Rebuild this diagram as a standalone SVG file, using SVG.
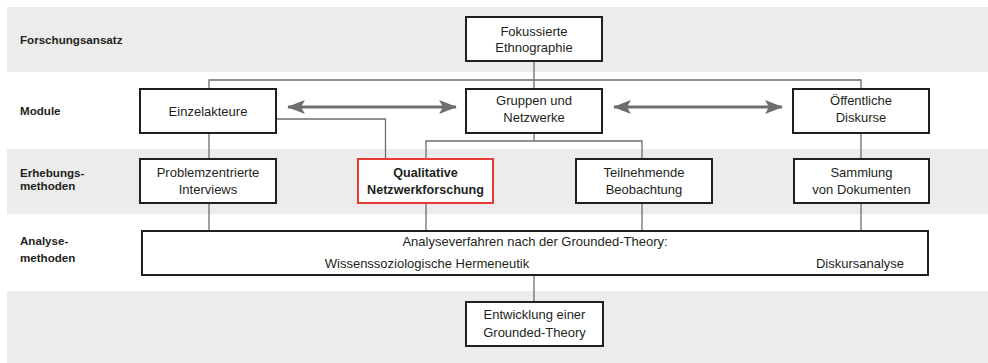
<svg xmlns="http://www.w3.org/2000/svg" width="988" height="363" viewBox="0 0 988 363">
<defs>
<style>
.band{fill:#ebeceb}
.box{fill:#fff;stroke:#231f20;stroke-width:2}
.red{fill:#fff;stroke:#e53a35;stroke-width:2}
.con{fill:none;stroke:#6d6e70;stroke-width:1.3}
.arr{fill:none;stroke:#6d6e70;stroke-width:3}
.t{font-family:"Liberation Sans",Arial,sans-serif;font-size:13px;fill:#231f20;text-anchor:middle}
.b{font-weight:bold;font-size:12.6px}
.lab{font-family:"Liberation Sans",Arial,sans-serif;font-size:11.6px;font-weight:bold;fill:#231f20}
</style>
<marker id="ah" viewBox="0 0 18 14" refX="17" refY="7" markerWidth="18" markerHeight="14" markerUnits="userSpaceOnUse" orient="auto-start-reverse">
<path d="M0,0 L18,7 L0,14 L4,7 Z" fill="#6d6e70"/>
</marker>
</defs>
<g id="bands">
<rect class="band" x="7" y="7" width="981" height="65"/>
<rect class="band" x="7" y="149" width="981" height="65"/>
<rect class="band" x="7" y="291" width="981" height="72"/>
</g>
<g id="labels">
<text class="lab" x="20" y="44">Forschungsansatz</text>
<text class="lab" x="20" y="115">Module</text>
<text class="lab" x="20" y="177">Erhebungs-</text>
<text class="lab" x="20" y="190">methoden</text>
<text class="lab" x="20" y="245">Analyse-</text>
<text class="lab" x="20" y="262">methoden</text>
</g>
<g id="connectors">
<path class="con" d="M534,61 V80 M209,89 V80 H861 V89 M534,80 V89"/>
<path class="con" d="M276,119 H385.5 V159"/>
<path class="con" d="M534,133 V141 M426,159 V141 H642 V159"/>
<path class="con" d="M209,133 V159 M861,133 V159"/>
<path class="con" d="M209,203 V231 M426,203 V231 M642,203 V231 M861,203 V231"/>
<path class="con" d="M534,275 V302"/>
<line class="arr" x1="288" y1="107" x2="456" y2="107" marker-start="url(#ah)" marker-end="url(#ah)"/>
<line class="arr" x1="614" y1="107" x2="782" y2="107" marker-start="url(#ah)" marker-end="url(#ah)"/>
</g>
<g id="fokussierte">
<rect class="box" x="466" y="17" width="136" height="44"/>
<text class="t" x="534" y="36">Fokussierte</text>
<text class="t" x="534" y="52">Ethnographie</text>
</g>
<g id="einzelakteure">
<rect class="box" x="140" y="89" width="136" height="44"/>
<text class="t" x="208" y="115.5">Einzelakteure</text>
</g>
<g id="gruppen">
<rect class="box" x="466" y="89" width="136" height="44"/>
<text class="t" x="534" y="105">Gruppen und</text>
<text class="t" x="534" y="122">Netzwerke</text>
</g>
<g id="oeffentliche">
<rect class="box" x="793" y="89" width="136" height="44"/>
<text class="t" x="861" y="105">Öffentliche</text>
<text class="t" x="861" y="122">Diskurse</text>
</g>
<g id="problemzentrierte">
<rect class="box" x="140" y="159" width="136" height="44"/>
<text class="t" x="208" y="177">Problemzentrierte</text>
<text class="t" x="208" y="193.5">Interviews</text>
</g>
<g id="qualitative">
<rect class="red" x="358" y="159" width="135" height="44"/>
<text class="t b" x="425.5" y="177">Qualitative</text>
<text class="t b" x="425.5" y="193.5">Netzwerkforschung</text>
</g>
<g id="teilnehmende">
<rect class="box" x="576" y="159" width="136" height="44"/>
<text class="t" x="644" y="177">Teilnehmende</text>
<text class="t" x="644" y="193.5">Beobachtung</text>
</g>
<g id="sammlung">
<rect class="box" x="794" y="159" width="135" height="44"/>
<text class="t" x="861.5" y="177">Sammlung</text>
<text class="t" x="861.5" y="193.5">von Dokumenten</text>
</g>
<g id="analyse">
<rect class="box" x="142" y="231" width="786" height="44"/>
<text class="t" x="535" y="246">Analyseverfahren nach der Grounded-Theory:</text>
<text class="t" x="427" y="267.5">Wissenssoziologische Hermeneutik</text>
<text class="t" x="860" y="267.5">Diskursanalyse</text>
</g>
<g id="entwicklung">
<rect class="box" x="466" y="302" width="137" height="44"/>
<text class="t" x="534.5" y="318.5">Entwicklung einer</text>
<text class="t" x="534.5" y="336.5">Grounded-Theory</text>
</g>
</svg>
